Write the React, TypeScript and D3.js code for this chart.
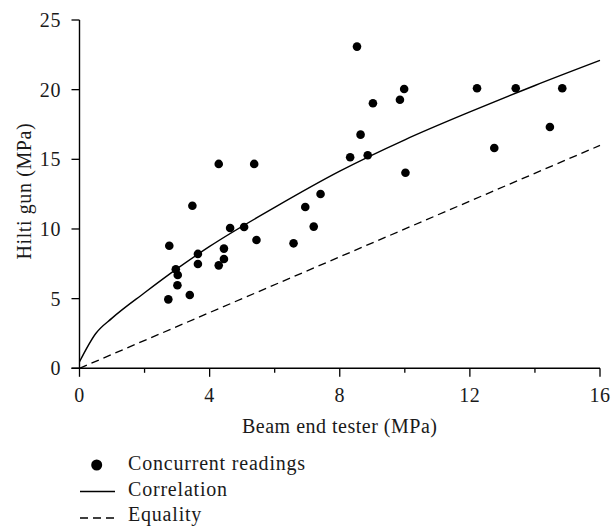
import React from "react";
import * as d3 from "d3";

// Concurrent readings (Beam end tester MPa, Hilti gun MPa)
const readingsX = [2.73, 2.76, 2.96, 3.02, 3.01, 3.47, 3.39, 3.64, 3.64, 4.28, 4.44, 4.44, 4.63, 5.06, 5.44, 6.58, 6.94, 4.28, 5.37, 8.53, 9.98, 9.85, 9.02, 12.22, 13.41, 14.84, 8.64, 8.32, 8.86, 14.46, 12.75, 10.02, 7.41, 7.2];
const readingsY = [4.95, 8.8, 7.11, 6.7, 5.96, 11.67, 5.26, 8.21, 7.49, 7.39, 8.59, 7.85, 10.07, 10.14, 9.21, 8.97, 11.58, 14.67, 14.67, 23.09, 20.05, 19.28, 19.02, 20.1, 20.1, 20.1, 16.77, 15.15, 15.29, 17.32, 15.81, 14.04, 12.51, 10.17];

// Correlation curve
const corrX = [0, 0.5, 1, 2, 3, 4, 6, 8, 10, 12, 14, 16];
const corrY = [0.47, 2.5, 3.6, 5.42, 7.15, 8.75, 11.55, 14.15, 16.4, 18.4, 20.3, 22.1];

// Equality line
const eqX = [0, 16];
const eqY = [0, 16];

const xMajorTicks = [0, 4, 8, 12, 16];
const xMinorTicks = [2, 6, 10, 14];
const yTicks = [0, 5, 10, 15, 20, 25];

const legendLabels = ["Concurrent readings", "Correlation", "Equality"];

const FONT = "'Liberation Serif', 'Times New Roman', serif";

export default function App() {
  const W = 613;
  const H = 530;
  const x = d3.scaleLinear().domain([0, 16]).range([79.5, 600]);
  const y = d3.scaleLinear().domain([0, 25]).range([368.3, 20]);

  const corrLine = d3
    .line<number>()
    .x((_, i) => x(corrX[i]))
    .y((_, i) => y(corrY[i]))
    .curve(d3.curveMonotoneX)(corrX as any) as string;

  const eqLine = d3
    .line<number>()
    .x((_, i) => x(eqX[i]))
    .y((_, i) => y(eqY[i]))(eqX as any) as string;

  const x0 = x(0);
  const y0 = y(0);
  const fs = 20;
  const ls = 0.6;
  const tc = "#1a1a1a";

  return (
    <svg
      width={W}
      height={H}
      viewBox={`0 0 ${W} ${H}`}
      style={{ position: "absolute", left: 0, top: 0, display: "block", background: "#fff" }}
      fontFamily={FONT}
    >
      <rect x={0} y={0} width={W} height={H} fill="#fff" />
      {/* axes */}
      <line x1={x0} x2={x0} y1={y(25)} y2={y0} stroke="#000" strokeWidth={1.4} />
      <line x1={x0 - 8} x2={x(16)} y1={y0} y2={y0} stroke="#000" strokeWidth={1.4} />
      {yTicks.map((t) => (
        <g key={"y" + t}>
          <line x1={x0 - 8} x2={x0} y1={y(t)} y2={y(t)} stroke="#000" strokeWidth={1.3} />
          <text x={61} y={y(t)} dy="0.35em" textAnchor="end" fontSize={fs} fill={tc} letterSpacing={ls}>
            {t}
          </text>
        </g>
      ))}
      {xMajorTicks.map((t) => (
        <g key={"x" + t}>
          <line x1={x(t)} x2={x(t)} y1={y0} y2={y0 + 8.5} stroke="#000" strokeWidth={1.3} />
          <text x={x(t)} y={402} textAnchor="middle" fontSize={fs} fill={tc} letterSpacing={ls}>
            {t}
          </text>
        </g>
      ))}
      {xMinorTicks.map((t) => (
        <line key={"xm" + t} x1={x(t)} x2={x(t)} y1={y0} y2={y0 + 4.5} stroke="#000" strokeWidth={1.3} />
      ))}
      <text x={(x(0) + x(16)) / 2} y={433} textAnchor="middle" fontSize={fs} fill={tc} letterSpacing={0.5}>
        Beam end tester (MPa)
      </text>
      <text
        transform={`translate(31, ${(y(0) + y(25)) / 2 - 3}) rotate(-90)`}
        textAnchor="middle"
        fontSize={fs}
        fill={tc}
        letterSpacing={ls}
      >
        Hilti gun (MPa)
      </text>

      {/* lines */}
      <path d={eqLine} fill="none" stroke="#000" strokeWidth={1.3} strokeDasharray="8,5" />
      <path d={corrLine} fill="none" stroke="#000" strokeWidth={1.4} />

      {/* points */}
      {readingsX.map((v, i) => (
        <circle key={"p" + i} cx={x(v)} cy={y(readingsY[i])} r={4.3} fill="#000" />
      ))}

      {/* legend */}
      <circle cx={96.7} cy={465} r={5.5} fill="#000" />
      <text x={128} y={469.5} fontSize={fs} fill={tc} letterSpacing={0.8}>
        {legendLabels[0]}
      </text>
      <line x1={80} x2={115} y1={491.5} y2={491.5} stroke="#000" strokeWidth={1.3} />
      <text x={128} y={495.5} fontSize={fs} fill={tc} letterSpacing={0.8}>
        {legendLabels[1]}
      </text>
      <line x1={80} x2={115} y1={518} y2={518} stroke="#000" strokeWidth={1.3} strokeDasharray="8,5" />
      <text x={128} y={520.5} fontSize={fs} fill={tc} letterSpacing={0.8}>
        {legendLabels[2]}
      </text>
    </svg>
  );
}
